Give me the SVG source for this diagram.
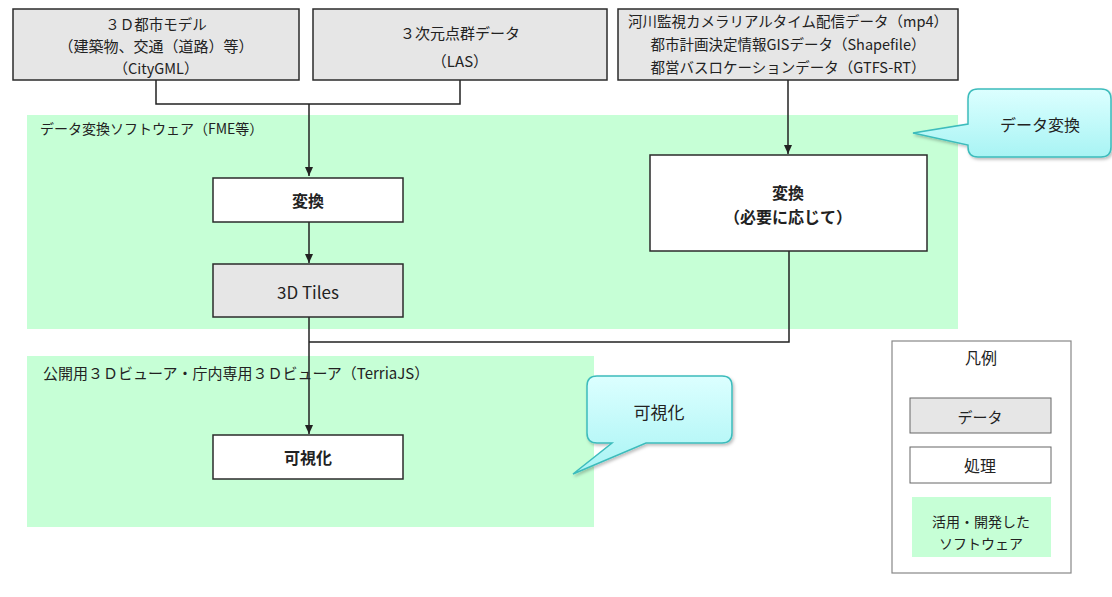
<svg xmlns="http://www.w3.org/2000/svg" width="1112" height="597" viewBox="0 0 1112 597">
<style>
text{font-family:"Noto Sans CJK JP","Noto Sans",sans-serif;font-size:14px;fill:#222;dominant-baseline:central}
.c{text-anchor:middle}
.b{font-weight:bold;font-size:16px}
.data{fill:#e6e6e6;stroke:#2b2b2b;stroke-width:1.5}
.proc{fill:#ffffff;stroke:#2b2b2b;stroke-width:1.5}
.zone{fill:#c6ffd6}
.conn{fill:none;stroke:#222;stroke-width:1.5}
.call{fill:url(#cg);stroke:#3cbcbc;stroke-width:1.5;filter:url(#sh)}
.lg{fill:#e6e6e6;stroke:#666;stroke-width:1}
.lp{fill:#fff;stroke:#666;stroke-width:1}
</style>
<defs>
<marker id="ah" markerWidth="10" markerHeight="10" refX="9" refY="5" orient="auto" markerUnits="userSpaceOnUse">
<path d="M0,1 L9,5 L0,9 Z" fill="#222"/>
</marker>
<linearGradient id="cg" x1="0" y1="0" x2="0" y2="1">
<stop offset="0" stop-color="#dcffff"/>
<stop offset="1" stop-color="#a8f4f4"/>
</linearGradient>
<filter id="sh" x="-10%" y="-10%" width="130%" height="130%">
<feDropShadow dx="1.5" dy="2" stdDeviation="1.5" flood-color="#000" flood-opacity="0.25"/>
</filter>
</defs>
<rect width="1112" height="597" fill="#fff"/>

<g id="zone-convert">
<rect class="zone" x="27" y="115" width="931" height="214"/>
<text x="40" y="128">データ変換ソフトウェア（FME等）</text>
</g>
<g id="zone-viewer">
<rect class="zone" x="27" y="356" width="567" height="171"/>
<text x="43" y="372" style="font-size:15px">公開用３Ｄビューア・庁内専用３Ｄビューア（TerriaJS）</text>
</g>

<g id="connectors">
<path class="conn" d="M156,80 V104 H460 V80"/>
<path class="conn" d="M309,104 V176" marker-end="url(#ah)"/>
<path class="conn" d="M309,222 V263" marker-end="url(#ah)"/>
<path class="conn" d="M309,317 V434" marker-end="url(#ah)"/>
<path class="conn" d="M788,80 V154" marker-end="url(#ah)"/>
<path class="conn" d="M789,251 V342 H309"/>
</g>

<g id="node-citymodel">
<rect class="data" x="13" y="9" width="286" height="71"/>
<text class="c" x="156" y="23" style="font-size:14.5px">３Ｄ都市モデル</text>
<text class="c" x="156" y="45" style="font-size:15px">（建築物、交通（道路）等）</text>
<text class="c" x="156" y="67" style="font-size:14.5px">（CityGML）</text>
</g>
<g id="node-pointcloud">
<rect class="data" x="313" y="9" width="294" height="71"/>
<text class="c" x="460" y="32" style="font-size:15px">３次元点群データ</text>
<text class="c" x="460" y="60" style="font-size:15px">（LAS）</text>
</g>
<g id="node-otherdata">
<rect class="data" x="618" y="9" width="340" height="71"/>
<text class="c" x="788" y="20" style="font-size:14.5px">河川監視カメラリアルタイム配信データ（mp4）</text>
<text class="c" x="788" y="43" style="font-size:14.5px">都市計画決定情報GISデータ（Shapefile）</text>
<text class="c" x="788" y="66" style="font-size:14.5px">都営バスロケーションデータ（GTFS-RT）</text>
</g>
<g id="node-convert">
<rect class="proc" x="213" y="178" width="190" height="44"/>
<text class="c b" x="308" y="200">変換</text>
</g>
<g id="node-3dtiles">
<rect class="data" x="213" y="264" width="190" height="53"/>
<text class="c" x="308" y="291" style="font-size:17px">3D Tiles</text>
</g>
<g id="node-convert2">
<rect class="proc" x="650" y="155" width="277" height="96"/>
<text class="c b" x="788" y="192">変換</text>
<text class="c b" x="788" y="216">（必要に応じて）</text>
</g>
<g id="node-visualize">
<rect class="proc" x="213" y="435" width="190" height="44"/>
<text class="c b" x="308" y="457">可視化</text>
</g>

<g id="callout-convert">
<path class="call" d="M978,89 H1101 Q1111,89 1111,99 V147 Q1111,157 1101,157 H978 Q968,157 968,147 V145 L913,133 L968,124 V99 Q968,89 978,89 Z"/>
<text class="c" x="1040" y="124" style="font-size:16px">データ変換</text>
</g>
<g id="callout-visualize">
<path class="call" d="M597,376 H722 Q732,376 732,386 V433 Q732,443 722,443 H646 L573,474 L612,443 H597 Q587,443 587,433 V386 Q587,376 597,376 Z"/>
<text class="c" x="659" y="411" style="font-size:17px">可視化</text>
</g>

<g id="legend">
<rect x="892" y="341" width="179" height="232" fill="#fff" stroke="#888" stroke-width="1.2"/>
<text class="c" x="981" y="357" style="font-size:16px">凡例</text>
<rect class="lg" x="910" y="398" width="141" height="35"/>
<text class="c" x="980" y="416" style="font-size:15px">データ</text>
<rect class="lp" x="910" y="447" width="141" height="36"/>
<text class="c" x="980" y="465" style="font-size:16px">処理</text>
<rect class="zone" x="912" y="497" width="139" height="60"/>
<text class="c" x="981" y="521">活用・開発した</text>
<text class="c" x="981" y="543">ソフトウェア</text>
</g>
</svg>
